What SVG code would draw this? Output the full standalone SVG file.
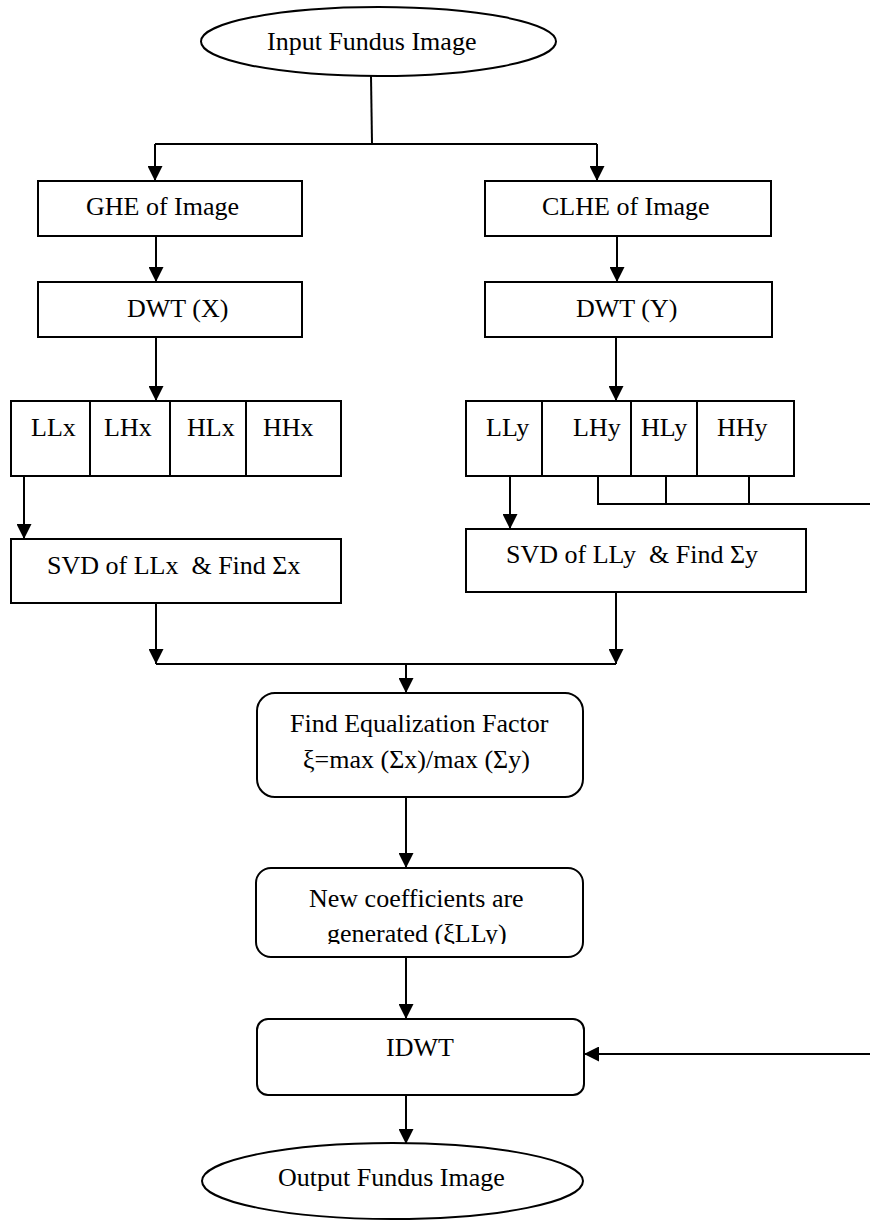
<svg xmlns="http://www.w3.org/2000/svg" width="870" height="1221" viewBox="0 0 870 1221">
<style>
  .box { fill: #fff; stroke: #000; stroke-width: 2; }
  .ln { fill: none; stroke: #000; stroke-width: 2; }
  .arr { fill: none; stroke: #000; stroke-width: 2; marker-end: url(#ah); }
  text { font-family: "Liberation Serif", "Times New Roman", serif; font-size: 26px; fill: #000; white-space: pre; }
</style>
<defs>
  <marker id="ah" markerUnits="userSpaceOnUse" markerWidth="15" markerHeight="15" refX="15" refY="7.5" orient="auto">
    <path d="M0,0 L15,7.5 L0,15 z" fill="#000"/>
  </marker>
  <clipPath id="clipNew"><rect x="256" y="868" width="328" height="76"/></clipPath>
</defs>
<rect width="870" height="1221" fill="#fff"/>

<g id="connectors">
  <line class="ln" x1="371" y1="76" x2="372" y2="144"/>
  <line class="ln" x1="155" y1="144" x2="597" y2="144"/>
  <line class="arr" x1="155" y1="144" x2="155" y2="181"/>
  <line class="arr" x1="597" y1="144" x2="597" y2="181"/>
  <line class="arr" x1="156" y1="236" x2="156" y2="282"/>
  <line class="arr" x1="617" y1="236" x2="617" y2="282"/>
  <line class="arr" x1="156" y1="337" x2="156" y2="401"/>
  <line class="arr" x1="616" y1="337" x2="616" y2="401"/>
  <line class="arr" x1="24" y1="476" x2="24" y2="539"/>
  <line class="arr" x1="510" y1="476" x2="510" y2="529"/>
  <line class="ln" x1="598" y1="476" x2="598" y2="504"/>
  <line class="ln" x1="666" y1="476" x2="666" y2="504"/>
  <line class="ln" x1="749" y1="476" x2="749" y2="504"/>
  <line class="ln" x1="597" y1="504" x2="870" y2="504"/>
  <line class="arr" x1="156" y1="603" x2="156" y2="664"/>
  <line class="arr" x1="616" y1="592" x2="616" y2="664"/>
  <line class="ln" x1="156" y1="664" x2="616" y2="664"/>
  <line class="arr" x1="406" y1="664" x2="406" y2="693"/>
  <line class="arr" x1="406" y1="797" x2="406" y2="868"/>
  <line class="arr" x1="406" y1="957" x2="406" y2="1019"/>
  <line class="arr" x1="870" y1="1054" x2="584" y2="1054"/>
  <line class="arr" x1="406" y1="1095" x2="406" y2="1144"/>
</g>

<g id="input">
  <ellipse class="box" cx="378.5" cy="41.5" rx="177.5" ry="34.5"/>
  <text x="267" y="50">Input Fundus Image</text>
</g>

<g id="ghe">
  <rect class="box" x="38" y="181" width="264" height="55"/>
  <text x="86" y="215">GHE of Image</text>
</g>
<g id="clhe">
  <rect class="box" x="485" y="181" width="286" height="55"/>
  <text x="542" y="215">CLHE of Image</text>
</g>

<g id="dwtx">
  <rect class="box" x="38" y="282" width="264" height="55"/>
  <text x="127" y="317">DWT (X)</text>
</g>
<g id="dwty">
  <rect class="box" x="485" y="282" width="287" height="55"/>
  <text x="576" y="317">DWT (Y)</text>
</g>

<g id="coefx">
  <rect class="box" x="11" y="401" width="330" height="75"/>
  <line class="ln" x1="90" y1="401" x2="90" y2="476"/>
  <line class="ln" x1="170" y1="401" x2="170" y2="476"/>
  <line class="ln" x1="246" y1="401" x2="246" y2="476"/>
  <text x="31" y="436">LLx</text>
  <text x="104" y="436">LHx</text>
  <text x="187" y="436">HLx</text>
  <text x="263" y="436">HHx</text>
</g>
<g id="coefy">
  <rect class="box" x="466" y="401" width="328" height="75"/>
  <line class="ln" x1="542" y1="401" x2="542" y2="476"/>
  <line class="ln" x1="631" y1="401" x2="631" y2="476"/>
  <line class="ln" x1="697" y1="401" x2="697" y2="476"/>
  <text x="486" y="436">LLy</text>
  <text x="573" y="436">LHy</text>
  <text x="641" y="436">HLy</text>
  <text x="717" y="436">HHy</text>
</g>

<g id="svdx">
  <rect class="box" x="11" y="539" width="330" height="64"/>
  <text x="47" y="574">SVD of LLx  &amp; Find Σx</text>
</g>
<g id="svdy">
  <rect class="box" x="466" y="529" width="340" height="63"/>
  <text x="506" y="563">SVD of LLy  &amp; Find Σy</text>
</g>

<g id="factor">
  <rect class="box" x="257" y="693" width="326" height="104" rx="18" ry="18"/>
  <text x="290" y="732">Find Equalization Factor</text>
  <text x="303" y="768">ξ=max (Σx)/max (Σy)</text>
</g>

<g id="newcoef">
  <rect class="box" x="256" y="868" width="327" height="89" rx="15" ry="15"/>
  <text x="309" y="907">New coefficients are</text>
  <text x="327" y="942" clip-path="url(#clipNew)">generated (ξLLy)</text>
</g>

<g id="idwt">
  <rect class="box" x="257" y="1019" width="327" height="76" rx="11" ry="11"/>
  <text x="386" y="1056">IDWT</text>
</g>

<g id="output">
  <ellipse class="box" cx="392.5" cy="1181" rx="190.5" ry="38"/>
  <text x="278" y="1186">Output Fundus Image</text>
</g>
</svg>
